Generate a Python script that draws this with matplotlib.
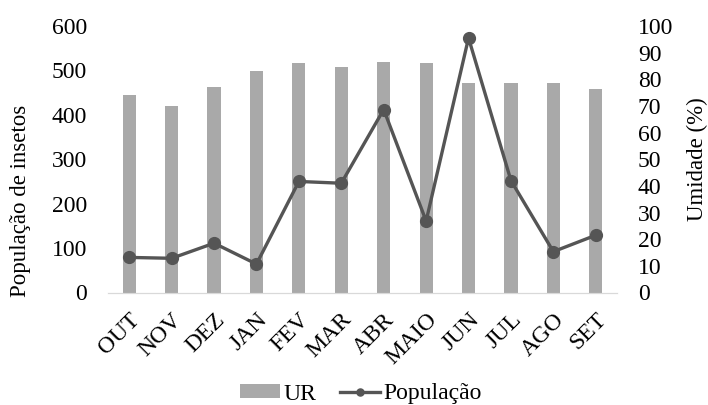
import matplotlib.pyplot as plt
import numpy as np

plt.rcParams["font.family"] = ["Liberation Serif", "DejaVu Serif"]

months = ["OUT", "NOV", "DEZ", "JAN", "FEV", "MAR", "ABR", "MAIO", "JUN", "JUL", "AGO", "SET"]
humidity = [74.0, 70.0, 77.0, 83.0, 86.0, 84.5, 86.5, 86.0, 78.5, 78.5, 78.5, 76.5]
population = [79, 77, 111, 64, 250, 246, 412, 161, 573, 252, 92, 129]

bar_color = "#a9a9a9"
line_color = "#555555"

fig = plt.figure(figsize=(7.08, 4.05), dpi=100)
ax = fig.add_axes([108 / 708, 1 - 292.5 / 405, 509 / 708, 266.5 / 405])
ax2 = ax.twinx()

x = np.arange(len(months))
bars = ax2.bar(x, humidity, width=0.31, color=bar_color, label="UR", zorder=1)
line, = ax.plot(x, population, color=line_color, lw=2.4, marker="o", ms=8.5, label="População", zorder=3)

# line axis drawn above the bar axis
ax.set_zorder(ax2.get_zorder() + 1)
ax.patch.set_visible(False)

ax.set_xlim(-0.5, len(months) - 0.5)
ax.set_ylim(0, 600)
ax2.set_ylim(0, 100)
ax.set_yticks(np.arange(0, 601, 100))
ax2.set_yticks(np.arange(0, 101, 10))

for a in (ax, ax2):
    for side in ("top", "left", "right"):
        a.spines[side].set_visible(False)
    a.spines["bottom"].set_color("#d9d9d9")
    a.tick_params(length=0, labelsize=17)
ax.tick_params(axis="y", pad=15)
ax2.tick_params(axis="y", pad=15)

ax.set_xticks(x)
ax.set_xticklabels(months, rotation=45, ha="right", rotation_mode="anchor", fontsize=17)
ax.tick_params(axis="x", pad=12)

ax.set_ylabel("População de insetos", fontsize=16.5)
ax.yaxis.set_label_coords(-0.151, 0.345)
ax2.set_ylabel("Umidade (%)", fontsize=16.5, labelpad=10)

fig.legend(handles=[bars, line], labels=["UR", "População"], loc="center",
           bbox_to_anchor=(361 / 708, 1 - 394 / 405), ncol=2, frameon=False,
           fontsize=17, handlelength=1.7, handleheight=0.5, handletextpad=0.15,
           columnspacing=1.0, markerscale=0.6)

fig.savefig("out.png", dpi=100, facecolor="white")
